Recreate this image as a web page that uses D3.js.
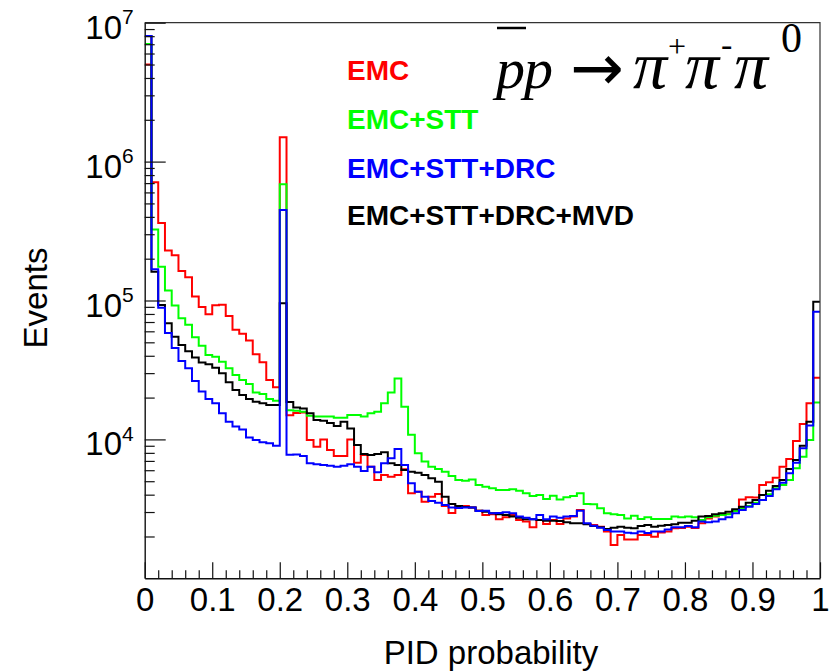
<!DOCTYPE html>
<html>
<head>
<meta charset="utf-8">
<script src="https://cdn.jsdelivr.net/npm/d3@7"></script>
<style>
  html, body { margin: 0; padding: 0; background: #fff; }
  svg { display: block; }
</style>
</head>
<body>
<svg id="chart" width="837" height="672"></svg>
<script>
// PID probability distributions, 100 bins on [0, 1]
const binRange = [0, 1];
const nBins = 100;

const seriesNames = ["EMC", "EMC+STT", "EMC+STT+DRC", "EMC+STT+DRC+MVD"];
const seriesColors = ["#ff0000", "#00ff00", "#0000ff", "#000000"];

const emc = [5.0e6, 7.1e5, 3.61e5, 2.29e5, 2.12e5, 1.63e5, 1.47e5, 1.07e5, 8.98e4, 7.96e4,
  9.25e4, 9.33e4, 7.74e4, 6.17e4, 5.76e4, 5.15e4, 4.10e4, 3.59e4, 2.68e4, 2.37e4,
  1.50e6, 1.49e4, 1.55e4, 1.56e4, 9.9e3, 8.87e3, 1.00e4, 8.39e3, 7.60e3, 7.60e3,
  1.00e4, 6.80e3, 7.72e3, 6.36e3, 5.10e3, 5.54e3, 5.39e3, 5.54e3, 6.09e3, 4.09e3,
  4.20e3, 3.56e3, 3.87e3, 4.05e3, 3.32e3, 2.95e3, 3.30e3, 3.32e3, 3.24e3, 3.07e3,
  2.86e3, 2.89e3, 2.66e3, 2.75e3, 2.86e3, 2.63e3, 2.56e3, 2.33e3, 2.63e3, 2.46e3,
  2.63e3, 2.46e3, 2.70e3, 2.78e3, 3.10e3, 2.46e3, 2.42e3, 2.35e3, 2.17e3, 1.74e3,
  2.05e3, 1.90e3, 1.90e3, 2.05e3, 2.05e3, 1.99e3, 2.14e3, 2.17e3, 2.29e3, 2.30e3,
  2.35e3, 2.30e3, 2.49e3, 2.70e3, 2.78e3, 2.86e3, 2.90e3, 3.10e3, 3.69e3, 3.83e3,
  3.82e3, 4.70e3, 4.91e3, 5.30e3, 6.36e3, 7.23e3, 9.74e3, 1.29e4, 1.82e4, 2.78e4];

const emcStt = [7.03e6, 3.24e5, 1.75e5, 1.18e5, 9.21e4, 7.45e4, 6.70e4, 5.44e4, 4.73e4, 4.05e4,
  3.94e4, 3.63e4, 3.25e4, 2.91e4, 2.68e4, 2.51e4, 2.18e4, 2.12e4, 1.95e4, 1.90e4,
  6.87e5, 1.62e4, 1.61e4, 1.58e4, 1.48e4, 1.46e4, 1.46e4, 1.46e4, 1.43e4, 1.43e4,
  1.50e4, 1.50e4, 1.46e4, 1.54e4, 1.58e4, 1.82e4, 2.18e4, 2.75e4, 1.72e4, 1.08e4,
  7.94e3, 6.92e3, 6.36e3, 6.12e3, 5.86e3, 5.45e3, 5.10e3, 5.04e3, 5.14e3, 4.70e3,
  4.57e3, 4.45e3, 4.32e3, 4.32e3, 4.37e3, 4.27e3, 4.09e3, 3.91e3, 3.98e3, 3.72e3,
  3.93e3, 3.70e3, 3.83e3, 3.91e3, 4.09e3, 3.43e3, 3.41e3, 3.19e3, 2.94e3, 2.89e3,
  2.86e3, 2.70e3, 2.82e3, 2.67e3, 2.75e3, 2.67e3, 2.67e3, 2.67e3, 2.78e3, 2.75e3,
  2.78e3, 2.75e3, 2.63e3, 2.75e3, 2.82e3, 2.86e3, 2.89e3, 3.05e3, 3.19e3, 3.32e3,
  3.50e3, 3.66e3, 4.03e3, 4.45e3, 4.70e3, 5.10e3, 6.19e3, 7.51e3, 9.9e3, 1.84e4];

const emcSttDrc = [8.03e6, 1.68e5, 8.87e4, 5.83e4, 4.55e4, 3.67e4, 3.25e4, 2.63e4, 2.21e4, 1.95e4,
  1.82e4, 1.54e4, 1.34e4, 1.24e4, 1.18e4, 1.03e4, 9.9e3, 9.53e3, 9.37e3, 9.01e3,
  4.49e5, 7.76e3, 7.80e3, 7.60e3, 6.73e3, 6.62e3, 6.54e3, 6.47e3, 6.36e3, 6.47e3,
  6.62e3, 6.36e3, 5.92e3, 6.36e3, 5.80e3, 6.73e3, 7.31e3, 8.53e3, 6.54e3, 4.83e3,
  4.20e3, 3.87e3, 3.60e3, 3.50e3, 3.37e3, 3.24e3, 3.21e3, 3.24e3, 3.23e3, 3.05e3,
  3.07e3, 2.94e3, 2.95e3, 2.99e3, 2.94e3, 2.78e3, 2.73e3, 2.66e3, 2.86e3, 2.66e3,
  2.78e3, 2.73e3, 2.78e3, 2.81e3, 3.07e3, 2.49e3, 2.39e3, 2.31e3, 2.23e3, 2.17e3,
  2.17e3, 2.13e3, 2.11e3, 2.17e3, 2.12e3, 2.17e3, 2.17e3, 2.25e3, 2.33e3, 2.33e3,
  2.38e3, 2.33e3, 2.56e3, 2.53e3, 2.56e3, 2.66e3, 2.75e3, 2.94e3, 3.10e3, 3.28e3,
  3.43e3, 3.66e3, 3.91e3, 4.37e3, 4.88e3, 5.70e3, 6.80e3, 8.63e3, 1.26e4, 8.31e4];

const emcSttDrcMvd = [8.03e6, 1.61e5, 9.29e4, 6.85e4, 5.49e4, 4.79e4, 4.32e4, 3.89e4, 3.58e4, 3.47e4,
  3.28e4, 2.99e4, 2.58e4, 2.27e4, 2.09e4, 1.95e4, 1.87e4, 1.82e4, 1.77e4, 1.77e4,
  9.55e4, 1.86e4, 1.70e4, 1.67e4, 1.54e4, 1.38e4, 1.36e4, 1.31e4, 1.25e4, 1.34e4,
  1.20e4, 9.12e3, 7.85e3, 7.72e3, 7.85e3, 8.07e3, 6.73e3, 6.54e3, 6.03e3, 5.86e3,
  5.76e3, 5.54e3, 5.25e3, 4.96e3, 3.87e3, 3.43e3, 3.32e3, 3.26e3, 3.24e3, 3.07e3,
  3.02e3, 2.94e3, 2.89e3, 2.86e3, 2.78e3, 2.73e3, 2.66e3, 2.66e3, 2.63e3, 2.60e3,
  2.60e3, 2.59e3, 2.53e3, 2.49e3, 2.49e3, 2.45e3, 2.38e3, 2.33e3, 2.26e3, 2.31e3,
  2.35e3, 2.31e3, 2.29e3, 2.38e3, 2.42e3, 2.35e3, 2.39e3, 2.42e3, 2.45e3, 2.51e3,
  2.51e3, 2.60e3, 2.78e3, 2.81e3, 2.89e3, 2.94e3, 3.02e3, 3.14e3, 3.28e3, 3.50e3,
  3.66e3, 3.98e3, 4.27e3, 4.62e3, 5.10e3, 6.12e3, 7.11e3, 9.01e3, 1.34e4, 9.81e4];

const seriesValues = [emc, emcStt, emcSttDrc, emcSttDrcMvd];
// stacking order of the outlines (last one on top)
const drawOrder = [0, 1, 3, 2];

const xTickValues = [0, 0.1, 0.2, 0.3, 0.4, 0.5, 0.6, 0.7, 0.8, 0.9, 1];
const yTickExponents = [4, 5, 6, 7];
const yDomain = [1e3, 1e7];

const xTitle = "PID probability";
const yTitle = "Events";

// ---------------------------------------------------------------
const svg = d3.select("#chart");
const frame = { left: 144.7, right: 820, top: 22.7, bottom: 578.3 };

const x = d3.scaleLinear().domain(binRange).range([frame.left, frame.right]);
const y = d3.scaleLog().domain(yDomain).range([frame.bottom, frame.top]);

const binWidth = (binRange[1] - binRange[0]) / nBins;
const edges = d3.range(nBins + 1).map(i => binRange[0] + i * binWidth);

svg.append("defs").append("clipPath").attr("id", "plotClip")
  .append("rect")
  .attr("x", frame.left).attr("y", frame.top)
  .attr("width", frame.right - frame.left).attr("height", frame.bottom - frame.top);

const stepLine = d3.line()
  .x(d => x(d[0]))
  .y(d => y(d[1]))
  .curve(d3.curveStepAfter);

const histG = svg.append("g").attr("clip-path", "url(#plotClip)");
drawOrder.forEach(k => {
  const vals = seriesValues[k];
  const pts = vals.map((v, i) => [edges[i], v]);
  pts.push([edges[nBins], vals[nBins - 1]]);
  histG.append("path")
    .attr("d", stepLine(pts))
    .attr("fill", "none")
    .attr("stroke", seriesColors[k])
    .attr("stroke-width", 2)
    .attr("stroke-linejoin", "miter");
});

// frame (top and right edges)
svg.append("path")
  .attr("d", `M${frame.left},${frame.top}H${frame.right}V${frame.bottom}`)
  .attr("fill", "none").attr("stroke", "#333").attr("stroke-width", 1.2);

const labelFont = "'Liberation Sans', Arial, Helvetica, sans-serif";

// x axis: major ticks with labels, minor ticks every 0.02
const xMinor = d3.range(0, 51).map(i => i * 0.02).filter(v => Math.abs(v * 10 - Math.round(v * 10)) > 1e-6);
const xAxisG = svg.append("g").attr("transform", `translate(0,${frame.bottom})`);
xAxisG.append("g")
  .call(d3.axisBottom(x).tickValues(xMinor).tickSize(-8).tickFormat(""))
  .call(g => g.select(".domain").remove());
xAxisG.append("g")
  .call(d3.axisBottom(x).tickValues(xTickValues).tickSize(-16).tickPadding(9)
    .tickSizeOuter(0).tickFormat(d3.format("~g")))
  .call(g => g.select(".domain").attr("stroke", "#111").attr("stroke-width", 1.4))
  .call(g => g.selectAll("text")
    .attr("font-family", labelFont).attr("font-size", 33).attr("fill", "#000"));
xAxisG.selectAll(".tick line").attr("stroke", "#111").attr("stroke-width", 1.2);

// y axis: decades with 10^n labels, minor ticks 2..9 per decade
const yMajor = yTickExponents.map(e => Math.pow(10, e));
const yMinor = [];
for (let e = 3; e < 7; e++) for (let m = 2; m <= 9; m++) yMinor.push(m * Math.pow(10, e));
const yAxisG = svg.append("g").attr("transform", `translate(${frame.left},0)`);
yAxisG.append("g")
  .call(d3.axisLeft(y).tickValues(yMinor).tickSize(-10).tickFormat(""))
  .call(g => g.select(".domain").remove());
yAxisG.append("g")
  .call(d3.axisLeft(y).tickValues(yMajor).tickSize(-21).tickPadding(11).tickSizeOuter(0).tickFormat(""))
  .call(g => g.select(".domain").attr("stroke", "#111").attr("stroke-width", 1.4))
  .call(g => g.selectAll(".tick").each(function (d) {
    const t = d3.select(this).select("text")
      .attr("font-family", labelFont).attr("fill", "#000")
      .attr("text-anchor", "end").attr("dy", null).attr("y", 15.5);
    t.append("tspan").attr("font-size", 33).text("10");
    t.append("tspan").attr("font-size", 21).attr("dy", -14.5).text(Math.round(Math.log10(d)));
  }));
yAxisG.selectAll(".tick line").attr("stroke", "#111").attr("stroke-width", 1.2);

// axis titles
svg.append("text")
  .attr("x", 491).attr("y", 664)
  .attr("text-anchor", "middle")
  .attr("font-family", labelFont).attr("font-size", 33)
  .text(xTitle);
svg.append("text")
  .attr("transform", "translate(46.5,298) rotate(-90)")
  .attr("text-anchor", "middle")
  .attr("font-family", labelFont).attr("font-size", 33)
  .text(yTitle);

// legend labels
const legendBaselines = [80, 129.3, 178.3, 225];
seriesNames.forEach((name, k) => {
  svg.append("text")
    .attr("x", 347).attr("y", legendBaselines[k])
    .attr("font-family", labelFont).attr("font-size", 28).attr("font-weight", "bold")
    .attr("fill", seriesColors[k])
    .text(name);
});

// reaction label: p̄p → π+ π- π0
const serif = "'Liberation Serif', 'Times New Roman', Times, serif";
const rx = svg.append("text")
  .attr("y", 88)
  .attr("font-family", serif).attr("font-size", 58).attr("fill", "#000");
const pbar = rx.append("tspan").attr("x", 496).attr("font-style", "italic").text("p");
rx.append("tspan").attr("x", 524).attr("font-style", "italic").text("p");
rx.append("tspan").attr("x", 570).attr("font-family", "'DejaVu Sans', sans-serif")
  .attr("font-size", 64).attr("dy", 2).text("\u2192");
rx.append("tspan").attr("x", 633).attr("y", 88).attr("font-style", "italic").attr("font-size", 68).text("\u03c0");
rx.append("tspan").attr("x", 668).attr("y", 57).attr("font-size", 32).text("+");
rx.append("tspan").attr("x", 685).attr("y", 88).attr("font-style", "italic").attr("font-size", 68).text("\u03c0");
rx.append("tspan").attr("x", 721).attr("y", 56).attr("font-size", 34).text("-");
rx.append("tspan").attr("x", 734).attr("y", 88).attr("font-style", "italic").attr("font-size", 68).text("\u03c0");
rx.append("tspan").attr("x", 781).attr("y", 52).attr("font-size", 42).text("0");

const pb = pbar.node().getBBox();
svg.append("line")
  .attr("x1", pb.x + 5).attr("x2", pb.x + pb.width + 1)
  .attr("y1", 28).attr("y2", 28)
  .attr("stroke", "#000").attr("stroke-width", 2.5);
</script>
</body>
</html>
